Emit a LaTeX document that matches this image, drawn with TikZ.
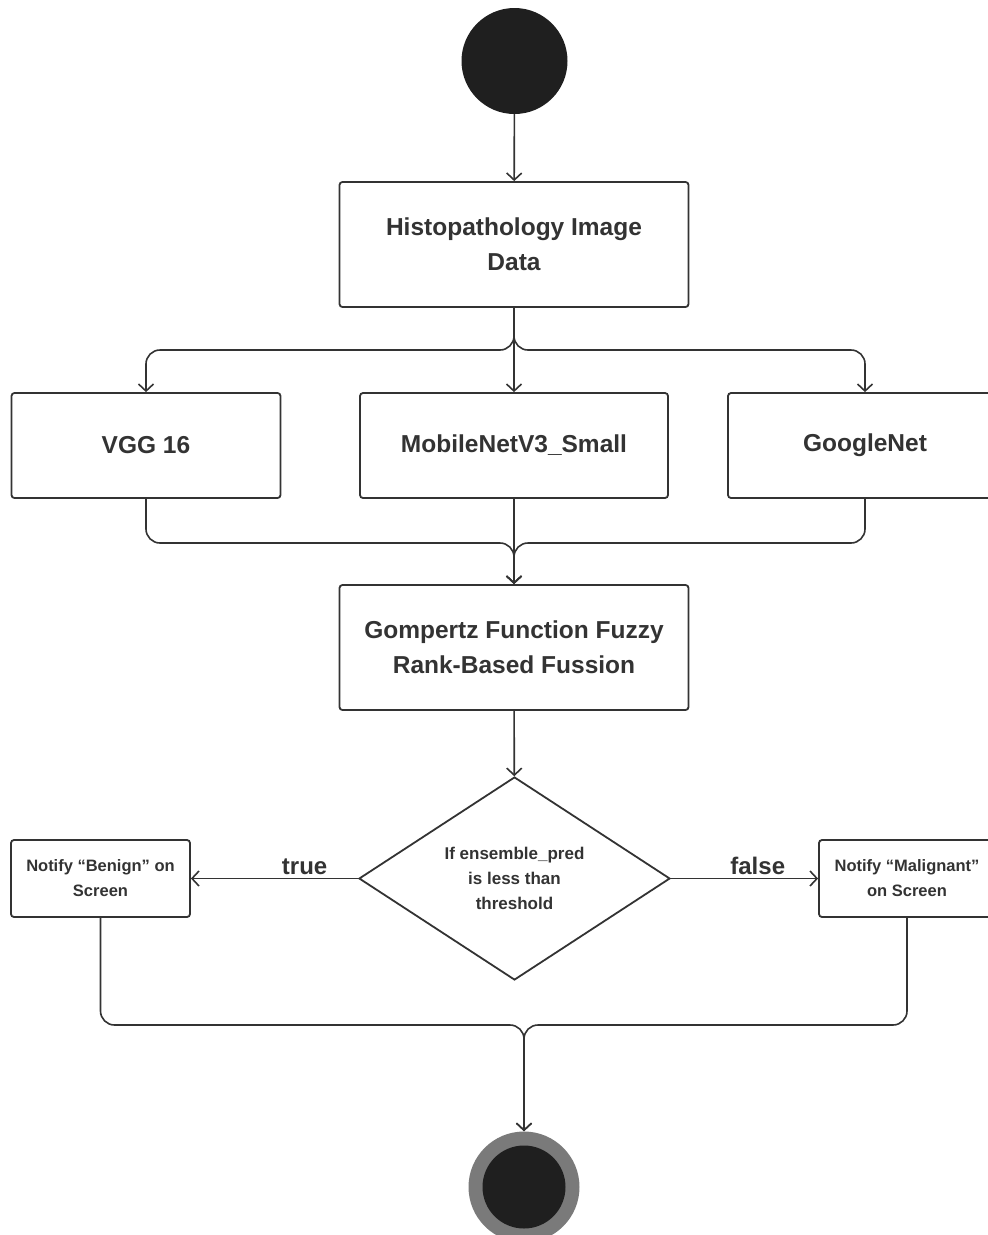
\documentclass[tikz,border=0pt]{standalone}
\usepackage{fontspec}
\setmainfont{Liberation Sans}
\usetikzlibrary{shapes.geometric,arrows.meta}
\definecolor{ink}{HTML}{333333}
\definecolor{blob}{HTML}{1F1F1F}
\definecolor{ring}{HTML}{7A7A7A}
\begin{document}
\begin{tikzpicture}[x=1pt,y=1pt,
  box/.style={draw=ink,line width=1.8pt,rounded corners=3pt,align=center,text=ink,inner sep=0pt,font=\bfseries\fontsize{24.5}{35}\selectfont},
  note/.style={box,font=\bfseries\fontsize{16.5}{25}\selectfont},
  flow/.style={draw=ink,line width=1.6pt,rounded corners=14pt,-{Straight Barb[length=7pt,width=15pt]}},
  lbl/.style={text=ink,font=\bfseries\fontsize{24}{26}\selectfont,above,inner sep=3pt}]
\useasboundingbox (0,0) rectangle (988,-1235);
\node[circle,fill=blob,minimum size=106,inner sep=0pt] (start) at (514.5,-61) {};
\node[box,minimum width=349,minimum height=125] (data) at (514,-244.5) {Histopathology Image\\Data};
\node[box,minimum width=269,minimum height=105] (vgg) at (146,-445.5) {VGG 16};
\node[box,minimum width=308,minimum height=105] (mobile) at (514,-445.5) {MobileNetV3\_Small};
\node[box,minimum width=274,minimum height=105] (google) at (865,-445.5) {GoogleNet};
\node[box,minimum width=349,minimum height=125] (fusion) at (514,-647.5) {Gompertz Function Fuzzy\\Rank-Based Fussion};
\node[diamond,draw=ink,line width=1.8pt,inner sep=0pt,minimum width=311,minimum height=203,align=center,text=ink,font=\bfseries\fontsize{17}{25}\selectfont] (check) at (514.5,-878.5) {If ensemble\_pred\\is less than\\threshold};
\node[note,minimum width=179,minimum height=77] (benign) at (100.5,-878.5) {Notify “Benign” on\\Screen};
\node[note,minimum width=176,minimum height=77] (malignant) at (907,-878.5) {Notify “Malignant”\\on Screen};
\node[circle,fill=ring,minimum size=111,inner sep=0pt] (stop) at (524,-1187) {};
\fill[blob] (stop) circle (41.5);
\draw[flow] (start) -- (data);
\draw[flow] (data.south) -- (514,-350) -| (vgg.north);
\draw[flow] (data.south) -- (mobile.north);
\draw[flow] (data.south) -- (514,-350) -| (google.north);
\draw[flow] (vgg.south) |- (514,-543) -- (fusion.north);
\draw[flow] (mobile.south) -- (fusion.north);
\draw[flow] (google.south) |- (514,-543) -- (fusion.north);
\draw[flow] (fusion) -- (check);
\draw[flow] (check.west) -- node[lbl,pos=0.32] {true} (benign.east);
\draw[flow] (check.east) -- node[lbl,pos=0.59] {false} (malignant.west);
\draw[flow] (benign.south) |- (524,-1025) -- (stop.north);
\draw[flow] (malignant.south) |- (524,-1025) -- (stop.north);
\end{tikzpicture}
\end{document}
